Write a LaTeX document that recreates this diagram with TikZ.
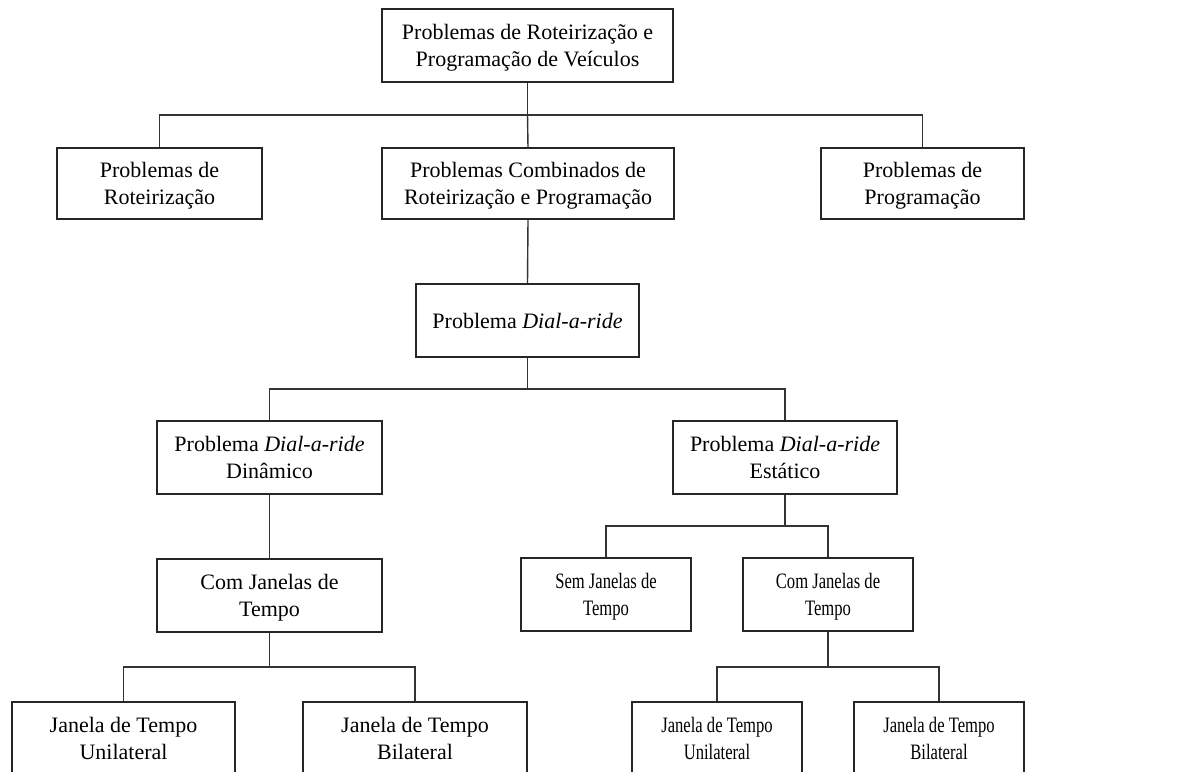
\documentclass[tikz,border=0pt]{standalone}
\usepackage{fontspec}
\setmainfont{Liberation Serif}
\newfontfamily\narrowserif[FakeStretch=0.755]{Liberation Serif}
\begin{document}
\begin{tikzpicture}[x=1pt,y=-1pt,
  box/.style={draw=black!85,line width=1.4pt,fill=white,rectangle,align=center,inner sep=0pt,
    text depth=0pt,font=\fontsize{22}{26.5}\selectfont},
  narrowbox/.style={box,font=\fontsize{22}{26.5}\selectfont\narrowserif},
  link/.style={draw=black!80,line width=1.4pt}]
\clip (0,0) rectangle (1188,771);
\fill[white] (0,0) rectangle (1188,771);
% nodes
\node[box,minimum width=291,minimum height=73] (top) at (527.5,45.5) {Problemas de Roteirização e\\Programação de Veículos};
\node[box,minimum width=205,minimum height=71] (rot) at (159.5,183.5) {Problemas de\\Roteirização};
\node[box,minimum width=292,minimum height=71] (comb) at (528,183.5) {Problemas Combinados de\\Roteirização e Programação};
\node[box,minimum width=203,minimum height=71] (prog) at (922.5,183.5) {Problemas de\\Programação};
\node[box,minimum width=223,minimum height=73] (dar) at (527.5,320.5) {Problema \textit{Dial-a-ride}};
\node[box,minimum width=225,minimum height=73] (din) at (269.5,457.5) {Problema \textit{Dial-a-ride}\\Dinâmico};
\node[box,minimum width=224,minimum height=73] (est) at (785,457.5) {Problema \textit{Dial-a-ride}\\Estático};
\node[box,minimum width=225,minimum height=73] (comL) at (269.5,595.5) {Com Janelas de\\Tempo};
\node[narrowbox,minimum width=170,minimum height=73] (sem) at (606,594.5) {Sem Janelas de\\Tempo};
\node[narrowbox,minimum width=170,minimum height=73] (comR) at (828,594.5) {Com Janelas de\\Tempo};
\node[box,minimum width=223,minimum height=73] (uniL) at (123.5,738.5) {Janela de Tempo\\Unilateral};
\node[box,minimum width=224,minimum height=73] (biL) at (415,738.5) {Janela de Tempo\\Bilateral};
\node[narrowbox,minimum width=170,minimum height=73] (uniR) at (717,738.5) {Janela de Tempo\\Unilateral};
\node[narrowbox,minimum width=170,minimum height=73] (biR) at (939,738.5) {Janela de Tempo\\Bilateral};
% bus coordinates
\coordinate (b1) at (527.5,115);
\coordinate (b2) at (527.5,389);
\coordinate (b3) at (785,526);
\coordinate (b4) at (269.5,667);
\coordinate (b5) at (828,667);
% connectors
\draw[link] (top.south) -- (b1);
\draw[link] (rot.north) |- (b1) -| (prog.north);
\draw[link] (b1) -- (comb.north);
\draw[link] (comb.south) -- (dar.north);
\draw[link] (dar.south) -- (b2);
\draw[link] (din.north) |- (b2) -| (est.north);
\draw[link] (din.south) -- (comL.north);
\draw[link] (est.south) -- (b3);
\draw[link] (sem.north) |- (b3) -| (comR.north);
\draw[link] (comL.south) -- (b4);
\draw[link] (uniL.north) |- (b4) -| (biL.north);
\draw[link] (comR.south) -- (b5);
\draw[link] (uniR.north) |- (b5) -| (biR.north);
\end{tikzpicture}
\end{document}
